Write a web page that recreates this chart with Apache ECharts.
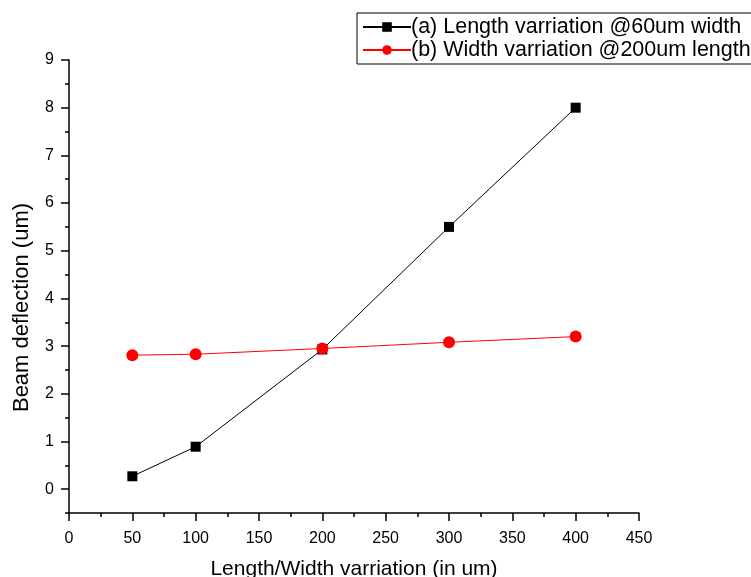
<!DOCTYPE html>
<html>
<head>
<meta charset="utf-8">
<script src="https://cdn.jsdelivr.net/npm/echarts@6/dist/echarts.min.js"></script>
<style>
    html, body { margin: 0; padding: 0; background: #fff; }
    #chart { width: 751px; height: 577px; }
</style>
</head>
<body>
<div id="chart"></div>
<script>
// x positions (um)
var xValues = [50, 100, 200, 300, 400];
// (a) length variation, beam deflection (um)
var lengthVar = [0.27, 0.89, 2.93, 5.5, 8.0];
// (b) width variation
var widthVar = [2.81, 2.83, 2.95, 3.08, 3.2];
var yTicks = [0, 1, 2, 3, 4, 5, 6, 7, 8, 9];
var seriesNames = ['(a) Length varriation @60um width', '(b) Width varriation @200um length'];

function pairs(xs, ys) {
    var out = [];
    for (var i = 0; i < xs.length; i++) {
        out.push([xs[i], ys[i]]);
    }
    return out;
}

var font = 'Liberation Sans, Arial, sans-serif';
var chart = echarts.init(document.getElementById('chart'));
var option = {
    animation: false,
    backgroundColor: '#fff',
    grid: { left: 69, right: 112, top: 60, bottom: 64, outerBoundsMode: 'none' },
    legend: {
        left: 357,
        top: 13,
        orient: 'vertical',
        itemWidth: 48,
        itemHeight: 12,
        itemGap: 1,
        padding: [3, 10, 3, 5],
        borderColor: '#000',
        borderWidth: 1,
        textStyle: { fontFamily: font, fontSize: 21.5, color: '#000', padding: [0, 0, 0, -5] },
        data: seriesNames
    },
    xAxis: {
        type: 'value',
        min: 0,
        max: 450,
        interval: 50,
        name: 'Length/Width varriation (in um)',
        nameLocation: 'middle',
        nameGap: 46,
        nameTextStyle: { fontFamily: font, fontSize: 21, color: '#000' },
        axisLine: { onZero: false, lineStyle: { color: '#000', width: 1.5 } },
        axisTick: { inside: false, length: 8, lineStyle: { color: '#000', width: 1.5 } },
        minorTick: { show: true, splitNumber: 2, length: 4, lineStyle: { color: '#000', width: 1.5 } },
        axisLabel: { fontFamily: font, fontSize: 16, color: '#000', margin: 18 },
        splitLine: { show: false }
    },
    yAxis: [
        {
            type: 'value',
            min: -0.5,
            max: 9,
            name: 'Beam deflection (um)',
            nameLocation: 'middle',
            nameGap: 36,
            nameTextStyle: { fontFamily: font, fontSize: 22, color: '#000', padding: [0, 42, 0, 0] },
            axisLine: { show: true, onZero: false, lineStyle: { color: '#000', width: 1.5 } },
            axisTick: { show: true, length: 8, customValues: yTicks, lineStyle: { color: '#000', width: 1.5 } },
            axisLabel: { fontFamily: font, fontSize: 16, color: '#000', margin: 15, customValues: yTicks },
            splitLine: { show: false }
        },
        {
            type: 'value',
            min: -0.5,
            max: 9,
            interval: 0.5,
            position: 'left',
            axisLine: { show: false, onZero: false },
            axisTick: { show: true, length: 4, lineStyle: { color: '#000', width: 1.5 } },
            axisLabel: { show: false },
            splitLine: { show: false }
        }
    ],
    series: [
        {
            name: seriesNames[0],
            type: 'line',
            data: pairs(xValues, lengthVar),
            symbol: 'rect',
            symbolSize: 10,
            itemStyle: { color: '#000' },
            lineStyle: { color: '#000', width: 1 },
            z: 2
        },
        {
            name: seriesNames[1],
            type: 'line',
            data: pairs(xValues, widthVar),
            symbol: 'circle',
            symbolSize: 12,
            itemStyle: { color: '#ff0000' },
            lineStyle: { color: '#ff0000', width: 1 },
            z: 3
        }
    ]
};
chart.setOption(option);
</script>
</body>
</html>
